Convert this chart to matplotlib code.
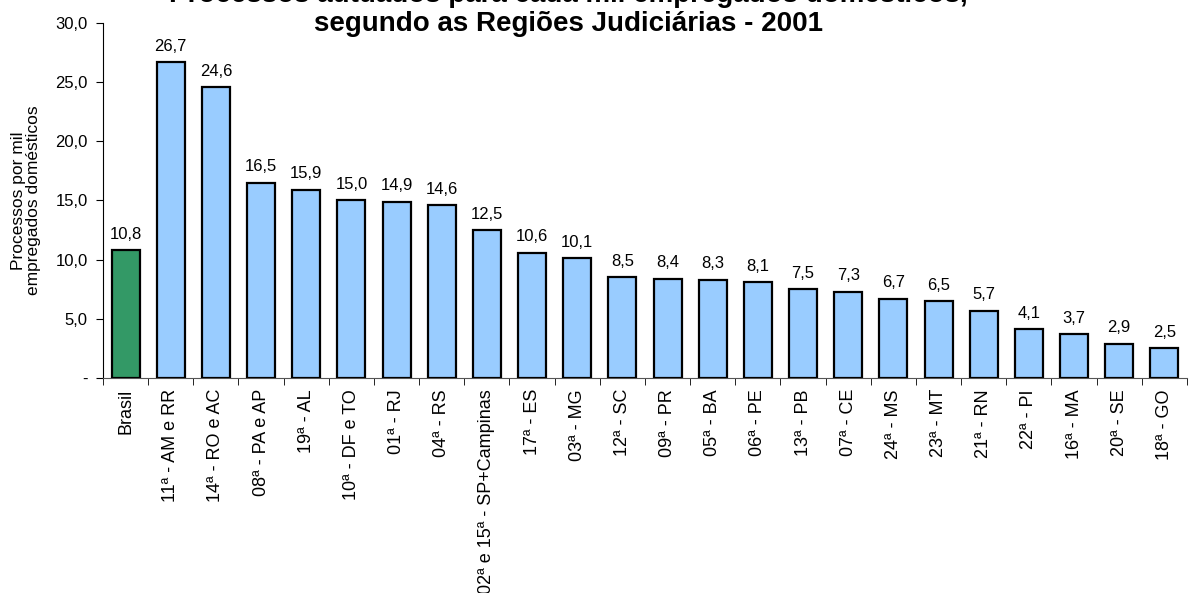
import numpy as np
import matplotlib.pyplot as plt
from matplotlib.ticker import FuncFormatter

plt.rcParams['font.family'] = ['Liberation Sans', 'DejaVu Sans']

regioes = ['Brasil', '11ª - AM e RR', '14ª - RO e AC', '08ª - PA e AP', '19ª - AL',
           '10ª - DF e TO', '01ª - RJ', '04ª - RS', '02ª e 15ª - SP+Campinas', '17ª - ES',
           '03ª - MG', '12ª - SC', '09ª - PR', '05ª - BA', '06ª - PE', '13ª - PB',
           '07ª - CE', '24ª - MS', '23ª - MT', '21ª - RN', '22ª - PI', '16ª - MA',
           '20ª - SE', '18ª - GO']
processos = [10.8, 26.7, 24.6, 16.5, 15.9, 15.0, 14.9, 14.6, 12.5, 10.6, 10.1, 8.5,
             8.4, 8.3, 8.1, 7.5, 7.3, 6.7, 6.5, 5.7, 4.1, 3.7, 2.9, 2.5]
y_ticks = [0, 5, 10, 15, 20, 25, 30]

x = np.arange(len(regioes))
cores = ['#339966'] + ['#99CCFF'] * (len(regioes) - 1)

fig = plt.figure(figsize=(11.89, 5.93), dpi=100)
ax = fig.add_axes([0.0866, 0.3626, 0.9117, 0.5987])

ax.bar(x, processos, width=0.62, color=cores, edgecolor='black', linewidth=1.6, zorder=3)

for xi, v in zip(x, processos):
    ax.annotate(f'{v:.1f}'.replace('.', ','), xy=(xi, v), xytext=(0, 6),
                textcoords='offset points', ha='center', va='bottom', fontsize=12)

ax.set_xlim(-0.5, len(regioes) - 0.5)
ax.set_ylim(0, 30)
ax.set_yticks(y_ticks)
ax.yaxis.set_major_formatter(FuncFormatter(
    lambda v, p: '-' if v == 0 else f'{v:.1f}'.replace('.', ',')))
ax.tick_params(axis='y', labelsize=12, length=5, direction='out', pad=6)

# category labels centred under bars, ticks between bars
ax.set_xticks(x)
ax.set_xticklabels(regioes, rotation=90, fontsize=13)
ax.tick_params(axis='x', length=0, pad=8)
ax.set_xticks(np.arange(-0.5, len(regioes), 1), minor=True)
ax.tick_params(axis='x', which='minor', length=5, direction='out')

ax.spines['top'].set_visible(False)
ax.spines['right'].set_visible(False)
ax.spines['bottom'].set_color('#555555')

ax.set_ylabel('Processos por mil\nempregados domésticos', fontsize=12.5, labelpad=10,
              linespacing=1.05)

# first title line is cropped at the top edge, as in the original
fig.text(0.478, 1.03, 'Processos autuados para cada mil empregados domésticos,\n'
         'segundo as Regiões Judiciárias - 2001',
         ha='center', va='top', fontsize=20, fontweight='bold', linespacing=1.15)

fig.savefig('out.png', dpi=100)
